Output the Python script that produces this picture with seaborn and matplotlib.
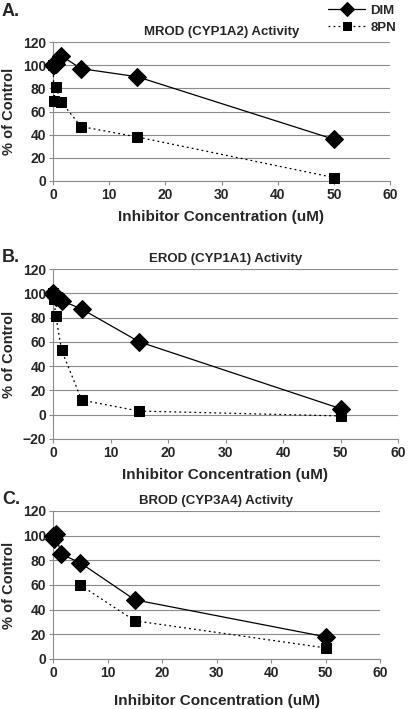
import numpy as np
import pandas as pd
import matplotlib
matplotlib.use('Agg')
import matplotlib.pyplot as plt
import seaborn as sns

# concentrations (uM)
conc = [0.05, 0.15, 0.5, 1.5, 5, 15, 50]

# A. MROD (CYP1A2)
mrod_dim = [100, 100, 101, 108, 97, 90, 36]
mrod_8pn = [100, 69, 81, 68, 47, 38, 3]

# B. EROD (CYP1A1)
erod_dim = [100, 99, 97, 94, 87, 60, 5]
erod_8pn = [100, 95, 81, 53, 12, 3, -1]

# C. BROD (CYP3A4)
brod_dim = [100, 97, 101, 85, 78, 48, 18]
brod_8pn_conc = [5, 15, 50]
brod_8pn = [60, 31, 9]

titles = ['MROD (CYP1A2) Activity', 'EROD (CYP1A1) Activity', 'BROD (CYP3A4) Activity']
panel_labels = ['A.', 'B.', 'C.']

sns.set_style('white')
plt.rcParams['font.family'] = ['Liberation Sans', 'DejaVu Sans']
plt.rcParams['font.weight'] = 'bold'

W, H = 408, 709
fig = plt.figure(figsize=(W / 100, H / 100), dpi=100)

def px_axes(left, right, top, bottom):
    return fig.add_axes([left / W, 1 - bottom / H, (right - left) / W, (bottom - top) / H])

axA = px_axes(53, 390, 42, 181)
axB = px_axes(53, 398, 269, 439)
axC = px_axes(53, 380, 511, 659)

panels = [
    (axA, conc, mrod_dim, conc, mrod_8pn, (0, 120)),
    (axB, conc, erod_dim, conc, erod_8pn, (-20, 120)),
    (axC, conc, brod_dim, brod_8pn_conc, brod_8pn, (0, 120)),
]

for i, (ax, xd, yd, xp, yp, ylim) in enumerate(panels):
    dim = pd.DataFrame({'conc': xd, 'pct': yd})
    pn = pd.DataFrame({'conc': xp, 'pct': yp})
    sns.lineplot(data=dim, x='conc', y='pct', ax=ax, color='black', lw=0.9,
                 marker='D', markersize=9, markeredgecolor='black',
                 label='DIM', clip_on=False, zorder=4)
    sns.lineplot(data=pn, x='conc', y='pct', ax=ax, color='black', lw=0.9,
                 linestyle=(0, (1.5, 2.5)), marker='s', markersize=7.5,
                 markeredgecolor='black', label='8PN', clip_on=False, zorder=3)
    ax.set_xlim(0, 60)
    ax.set_ylim(*ylim)
    ax.set_xticks(range(0, 61, 10))
    ax.set_yticks(range(ylim[0], 121, 20))
    ax.yaxis.grid(True, color='#8c8c8c', lw=0.8)
    ax.xaxis.grid(False)
    for s in ['top', 'right']:
        ax.spines[s].set_visible(False)
    for s in ['left', 'bottom']:
        ax.spines[s].set_color('#8c8c8c')
        ax.spines[s].set_linewidth(0.8)
    ax.tick_params(axis='both', labelsize=10, length=3, width=0.8,
                   color='#8c8c8c', direction='out', pad=2)
    ax.tick_params(left=True, bottom=True)
    for lab in ax.get_xticklabels() + ax.get_yticklabels():
        lab.set_fontweight('bold')
    ax.set_xlabel('Inhibitor Concentration (uM)', fontsize=11, fontweight='bold', labelpad=6)
    ax.set_ylabel('% of Control', fontsize=10.5, fontweight='bold', labelpad=5)
    ax.set_title(titles[i], fontsize=9.5, fontweight='bold', pad=5)
    ax.get_legend().remove()

axC.xaxis.labelpad = 10

fig.text(2 / W, 1 - 12 / H, panel_labels[0], fontsize=13, fontweight='bold', va='center')
fig.text(2 / W, 1 - 258 / H, panel_labels[1], fontsize=13, fontweight='bold', va='center')
fig.text(2 / W, 1 - 499 / H, panel_labels[2], fontsize=13, fontweight='bold', va='center')

handles, labels = axA.get_legend_handles_labels()
leg = fig.legend(handles, labels, loc='upper right', bbox_to_anchor=(1.0, 1.01),
                 frameon=False, fontsize=9.5, handlelength=2.8, numpoints=1,
                 labelspacing=0.35, handletextpad=0.4, markerscale=0.75)
for t in leg.get_texts():
    t.set_fontweight('bold')

fig.savefig('out.png', dpi=100)
